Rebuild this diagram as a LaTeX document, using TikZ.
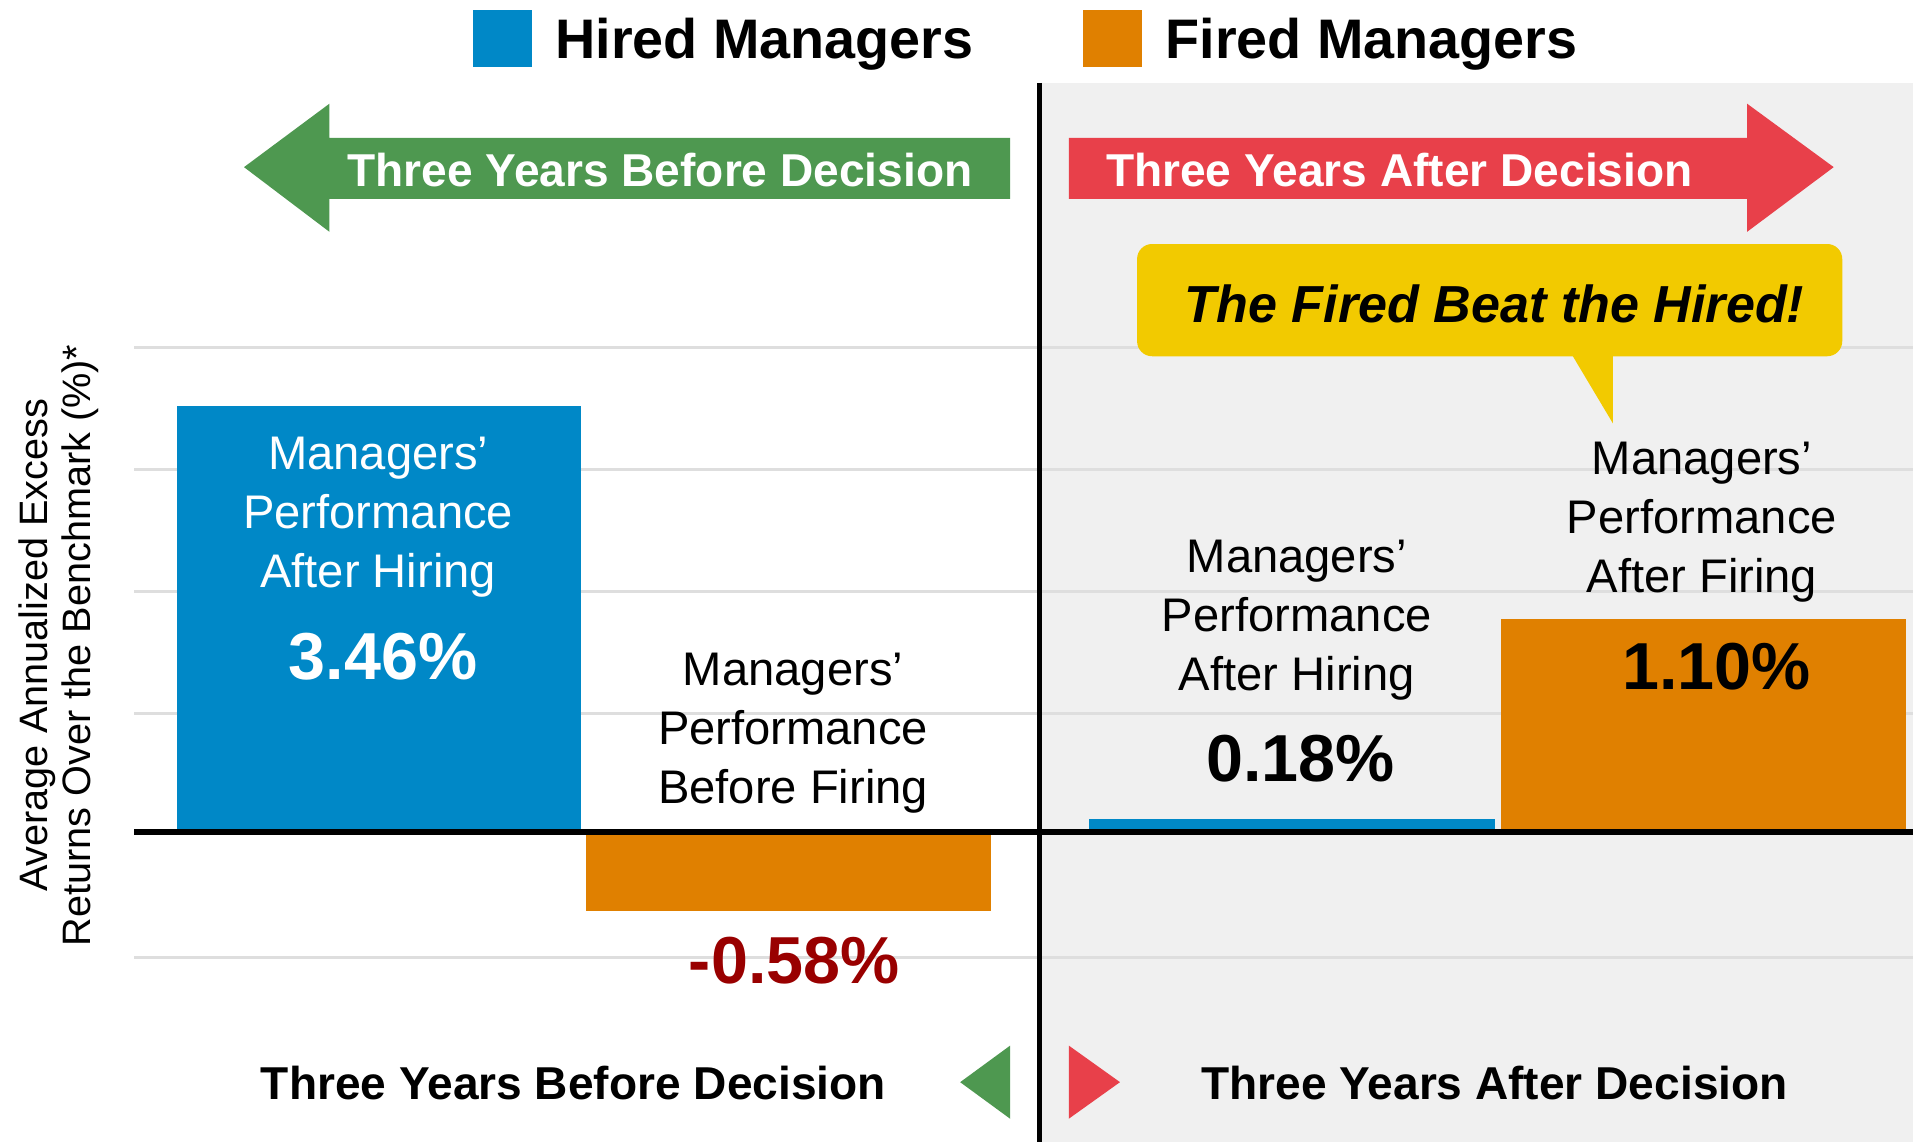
\documentclass[tikz,border=0pt]{standalone}
\usepackage{fontspec}
\setmainfont{Liberation Sans}
\definecolor{hiredblue}{HTML}{0088C7}
\definecolor{firedorange}{HTML}{E08000}
\definecolor{beforegreen}{HTML}{4E9850}
\definecolor{afterred}{HTML}{E8404A}
\definecolor{calloutyellow}{HTML}{F2CA00}
\definecolor{lossred}{HTML}{990000}
\definecolor{panegrey}{HTML}{F0F0F0}
\definecolor{gridgrey}{HTML}{DEDEDE}

\tikzset{
  legendtxt/.style={font=\fontsize{26}{31}\selectfont\bfseries, anchor=west, inner sep=0pt},
  bartxt/.style={font=\fontsize{22}{27.5}\selectfont, align=center, inner sep=0pt},
  pct/.style={font=\fontsize{31}{37}\selectfont\bfseries, inner sep=0pt},
  spantxt/.style={font=\fontsize{21.5}{26}\selectfont\bfseries, inner sep=0pt},
}

\begin{document}
\begin{tikzpicture}[x=0.02cm, y=-0.02cm, line cap=butt]
    \useasboundingbox (0,0) rectangle (1568,936);
    \fill[white] (0,0) rectangle (1568,936);
    \fill[panegrey] (852,68) rectangle (1568,936);

    % grid
    \foreach \gy in {285,385,485,585,785}
        \draw[gridgrey, line width=1.2pt] (110,\gy) -- (1568,\gy);

    % bars
    \fill[hiredblue] (145,333) rectangle (476,682);
    \fill[firedorange] (480,682) rectangle (812,747);
    \fill[hiredblue] (893,671) rectangle (1225,682);
    \fill[firedorange] (1230,507) rectangle (1562,682);

    \coordinate (axisL) at (110,682);
    \coordinate (axisR) at (1568,682);
    \coordinate (divT) at (852,68);
    \coordinate (divB) at (852,936);
    \draw[line width=3pt] (axisL) -- (axisR);
    \draw[line width=2.3pt] (divT) -- (divB);

    % legend
    \fill[hiredblue] (388,8) rectangle (436,55);
    \node[legendtxt] (hiredkey) at (455,36) {Hired Managers};
    \fill[firedorange] (888,8) rectangle (936,55);
    \node[legendtxt] (firedkey) at (955,36) {Fired Managers};

    % period arrows
    \fill[beforegreen] (828,113) -- (270,113) -- (270,85) -- (200,137) -- (270,190) -- (270,163) -- (828,163) -- cycle;
    \node[spantxt, white] (beforetop) at (541,139) {Three Years Before Decision};
    \fill[afterred] (876,113) -- (1432,113) -- (1432,85) -- (1503,137) -- (1432,190) -- (1432,163) -- (876,163) -- cycle;
    \node[spantxt, white] (aftertop) at (1147,139) {Three Years After Decision};

    % callout
    \fill[calloutyellow, rounded corners=7pt] (932,200) rectangle (1510,292);
    \fill[calloutyellow] (1288,290) -- (1322,290) -- (1322,347) -- cycle;
    \node[font=\fontsize{24.3}{29}\selectfont\bfseries\itshape, inner sep=0pt] (callout) at (1225,249) {The Fired Beat the Hired!};

    % bar labels
    \node[bartxt, white] (hiredbefore) at (310,424) {Managers’\\Performance\\After Hiring};
    \node[pct, white] (hiredbeforeval) at (314,538) {3.46\%};
    \node[bartxt] (firedbefore) at (650,601) {Managers’\\Performance\\Before Firing};
    \node[pct, lossred] (firedbeforeval) at (651,787) {-0.58\%};
    \node[bartxt] (hiredafter) at (1063,508) {Managers’\\Performance\\After Hiring};
    \node[pct] (hiredafterval) at (1066,622) {0.18\%};
    \node[bartxt] (firedafter) at (1395,428) {Managers’\\Performance\\After Firing};
    \node[pct] (firedafterval) at (1407,546) {1.10\%};

    % axis title
    \node[font=\fontsize{18.5}{20}\selectfont, align=center, rotate=90, inner sep=0pt] (ytitle) at (48,529) {Average Annualized Excess\\Returns Over the Benchmark (\%)*};

    % bottom labels
    \node[spantxt] (beforebot) at (470,888) {Three Years Before Decision};
    \fill[beforegreen] (828,857) -- (828,917) -- (787,887) -- cycle;
    \fill[afterred] (876,857) -- (876,917) -- (918,887) -- cycle;
    \node[spantxt] (afterbot) at (1225,888) {Three Years After Decision};
\end{tikzpicture}
\end{document}
